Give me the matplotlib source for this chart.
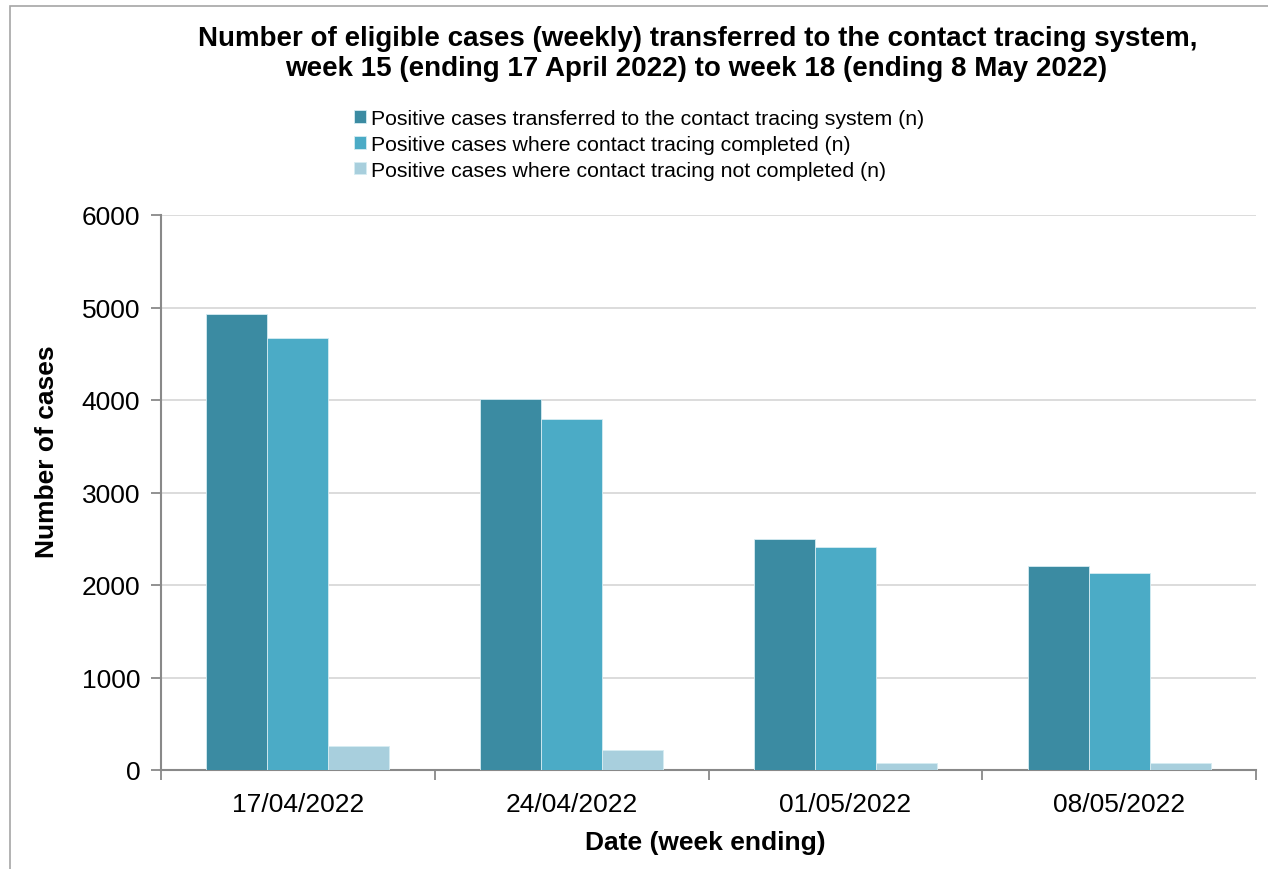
import matplotlib
matplotlib.use("Agg")
import matplotlib.pyplot as plt
import numpy as np
from matplotlib.patches import Rectangle

plt.rcParams['font.family'] = ['Liberation Sans', 'DejaVu Sans']

categories = ["17/04/2022", "24/04/2022", "01/05/2022", "08/05/2022"]
series_names = [
    "Positive cases transferred to the contact tracing system (n)",
    "Positive cases where contact tracing completed (n)",
    "Positive cases where contact tracing not completed (n)",
]
transferred = [4930, 4010, 2497, 2202]
completed = [4670, 3795, 2410, 2133]
not_completed = [260, 216, 80, 72]
yticks = [0, 1000, 2000, 3000, 4000, 5000, 6000]
title_lines = [
    "Number of eligible cases (weekly) transferred to the contact tracing system,",
    "week 15 (ending 17 April 2022) to week 18 (ending 8 May 2022)",
]

colors = ["#3B8BA2", "#4BABC6", "#A8CFDD"]

W, H = 1268, 870
fig = plt.figure(figsize=(W / 100, H / 100), dpi=100)
ax = fig.add_axes([161 / W, (H - 771) / H, (1256 - 161) / W, (771 - 216) / H])

x = np.arange(len(categories))
w = 0.223
for i, (vals, name) in enumerate(zip([transferred, completed, not_completed], series_names)):
    ax.bar(x + (i - 1) * w, vals, width=w, color=colors[i], edgecolor="#D6ECF2",
           linewidth=0.6, label=name, zorder=3)

ax.set_xlim(-0.5, len(categories) - 0.5)
ax.set_ylim(0, 6000)
ax.set_yticks(yticks)
ax.set_yticklabels([str(v) for v in yticks], fontsize=19)
ax.yaxis.grid(True, color="#D9D9D9", linewidth=1.3, zorder=0)
ax.set_axisbelow(True)

ax.set_xticks(x)
ax.set_xticklabels(categories, fontsize=19)
ax.tick_params(axis='x', length=0, pad=16)
ax.set_xticks(np.arange(-0.5, len(categories)), minor=True)
ax.tick_params(axis='x', which='minor', length=7, width=1.3, color="#898989", direction='out')
ax.tick_params(axis='y', length=7, width=1.3, color="#898989", direction='out', pad=8)

for s in ['top', 'right']:
    ax.spines[s].set_visible(False)
for s in ['left', 'bottom']:
    ax.spines[s].set_color("#898989")
    ax.spines[s].set_linewidth(1.5)

ax.set_xlabel("Date (week ending)", fontsize=19, fontweight='bold')
ax.xaxis.set_label_coords(0.497, -(843 - 771) / 555, transform=ax.transAxes)
ax.xaxis.label.set_va('center')
ax.set_ylabel("Number of cases", fontsize=19, fontweight='bold')
ax.yaxis.set_label_coords(-(161 - 47) / 1095, (771 - 452) / 555, transform=ax.transAxes)
ax.yaxis.label.set_va('center')

fig.text(698 / W, 1 - 39 / H, title_lines[0], ha='center', va='center',
         fontsize=20, fontweight='bold')
fig.text(696 / W, 1 - 69 / H, title_lines[1], ha='center', va='center',
         fontsize=20, fontweight='bold')

leg = fig.legend(loc='upper left', bbox_to_anchor=(354 / W, 1 - 110 / H), frameon=False,
                 fontsize=15.3, handlelength=0.55, handleheight=0.55, handletextpad=0.25,
                 labelspacing=0.32, borderaxespad=0, borderpad=0)

fig.patches.append(Rectangle((10 / W, -0.1), 1.2, (1 - 7 / H) + 0.1, transform=fig.transFigure,
                             fill=False, edgecolor="#A6A6A6", linewidth=1.2))

fig.savefig("out.png", dpi=100)
